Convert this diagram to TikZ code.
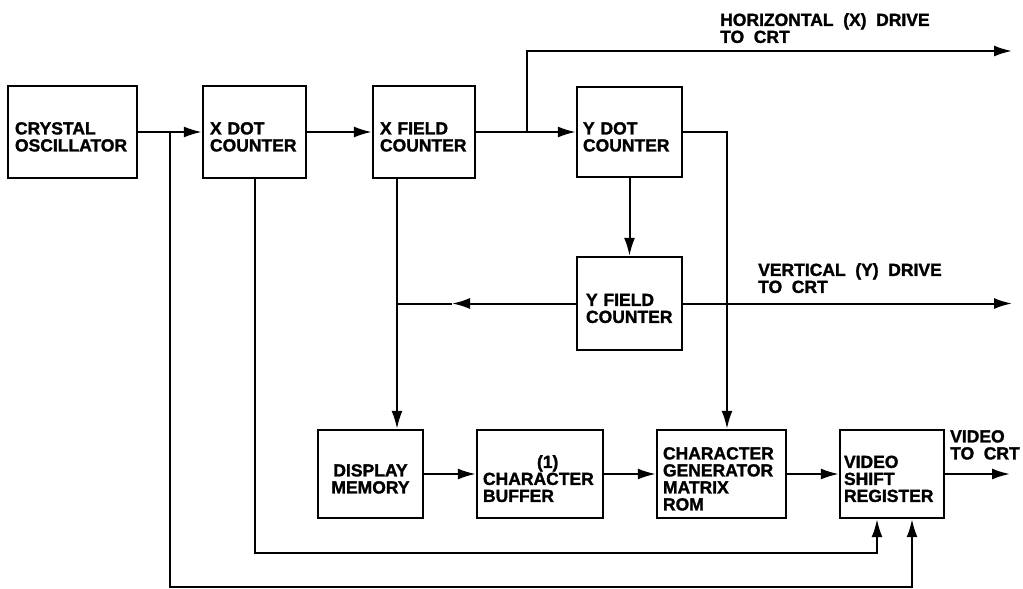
\documentclass[tikz,border=0pt]{standalone}
\usepackage{fontspec}
\setmainfont{Liberation Sans}[BoldFeatures={FakeBold=1.5}]
\usetikzlibrary{arrows.meta}
\newcommand{\blkfont}{\fontsize{17.5}{17}\selectfont\bfseries\spaceskip=0.55em plus 0.1em}
\begin{document}
\begin{tikzpicture}[x=1pt,y=-1pt,
  blk/.style={draw, line width=2.4pt, rectangle, inner ysep=0pt, font=\blkfont, align=left,
    execute at begin node={\rule{0pt}{22pt}}},
  lbl/.style={inner sep=0pt, font=\blkfont, align=left},
  conn/.style={line width=2pt},
  arr/.style={conn, -{Latex[length=18pt,width=11pt]}}]
\useasboundingbox (0,0) rectangle (1023,589);

% top row
\node[blk, minimum height=92pt, text width=115pt, inner xsep=7pt] (co) at (72.5,132) {CRYSTAL\\OSCILLATOR};
\node[blk, minimum height=92pt, text width=89pt, inner xsep=7pt] (xd) at (254.5,132) {X DOT\\COUNTER};
\node[blk, minimum height=92pt, text width=88pt, inner xsep=7pt] (xf) at (424,132) {X FIELD\\COUNTER};
\node[blk, minimum height=90pt, text width=93pt, inner xsep=6pt] (yd) at (629.5,132) {Y DOT\\COUNTER};
% middle
\node[blk, minimum height=93pt, text width=87pt, inner xsep=9pt] (yf) at (629.5,303.5) {Y FIELD\\COUNTER};
% bottom row
\node[blk, minimum height=88pt, text width=95pt, inner xsep=5pt, align=center] (dm) at (370.5,474) {DISPLAY\\MEMORY};
\node[blk, minimum height=88pt, text width=114pt, inner xsep=6pt] (cb) at (540,474) {\hspace*{54pt}(1)\\CHARACTER\\BUFFER};
\node[blk, minimum height=88pt, text width=117pt, inner xsep=6pt] (cg) at (721.5,474) {CHARACTER\\GENERATOR\\MATRIX\\ROM};
\node[blk, minimum height=88pt, text width=96pt, inner xsep=4pt] (vsr) at (892,474) {VIDEO\\SHIFT\\REGISTER};

% labels
\node[lbl, anchor=north west] (hl) at (720,13) {HORIZONTAL (X) DRIVE\\TO CRT};
\node[lbl, anchor=north west] (vl) at (758,263) {VERTICAL (Y) DRIVE\\TO CRT};
\node[lbl, anchor=north west] (vv) at (950,430) {VIDEO\\TO CRT};

% coordinates
\coordinate (j1) at (170,132);
\coordinate (c1) at (170,587);
\coordinate (c2) at (254.5,553);
\coordinate (j2) at (527,132);
\coordinate (hx) at (1012,51);
\coordinate (j3) at (397,303.5);
\coordinate (ym) at (452,303.5);
\coordinate (vx) at (1012,303.5);
\coordinate (vo) at (1010,474);

% connectors
\draw[arr] (co.east) -- (xd.west);
\draw[arr] (xd.east) -- (xf.west);
\draw[arr] (xf.east) -- (yd.west);
\draw[arr] (j2) |- (hx);
\draw[arr] (j1) -- (c1) -| ([xshift=20pt]vsr.south);
\draw[arr] (xd.south) -- (c2) -| ([xshift=-15pt]vsr.south);
\draw[arr] (xf.south -| j3) -- (dm.north -| j3);
\draw[arr] (yd.south) -- (yf.north);
\draw[arr] (yd.east) -| ([xshift=5.5pt]cg.north);
\draw[arr] (yf.west) -- (ym);
\draw[conn] (ym) -- (j3);
\draw[arr] (yf.east) -- (vx);
\draw[arr] (dm.east) -- (cb.west);
\draw[arr] (cb.east) -- (cg.west);
\draw[arr] (cg.east) -- (vsr.west);
\draw[arr] (vsr.east) -- (vo);
\end{tikzpicture}
\end{document}
